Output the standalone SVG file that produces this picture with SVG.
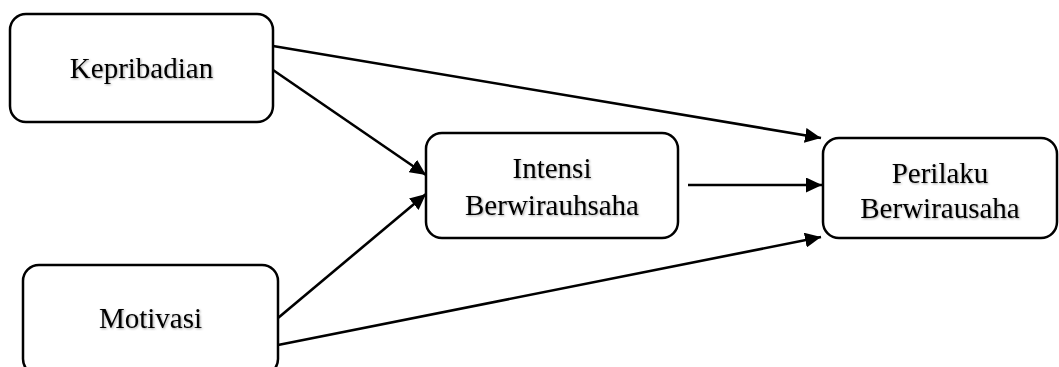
<svg xmlns="http://www.w3.org/2000/svg" width="1059" height="367" viewBox="0 0 1059 367">
  <defs>
    <marker id="arrow" markerUnits="userSpaceOnUse" markerWidth="16" markerHeight="15" refX="16" refY="7.5" orient="auto">
      <path d="M0,0 L16,7.5 L0,15 Z" fill="#000"/>
    </marker>
    <filter id="soft" x="-10%" y="-20%" width="120%" height="140%">
      <feDropShadow dx="1" dy="1" stdDeviation="0.8" flood-color="#000" flood-opacity="0.35"/>
    </filter>
  </defs>
  <style>
    .box { fill: #fff; stroke: #000; stroke-width: 2.5; }
    .lbl { font-family: "Liberation Serif", "Times New Roman", serif; font-size: 29px; fill: #000; text-anchor: middle; filter: url(#soft); }
    .edge { stroke: #000; stroke-width: 2.6; fill: none; marker-end: url(#arrow); }
  </style>
  <rect width="1059" height="367" fill="#fff"/>

  <g id="connectors">
    <line class="edge" x1="273" y1="46" x2="821" y2="138"/>
    <line class="edge" x1="273" y1="70" x2="426" y2="175"/>
    <line class="edge" x1="278" y1="318" x2="426" y2="194"/>
    <line class="edge" x1="278" y1="345" x2="821" y2="237"/>
    <line class="edge" x1="688" y1="185" x2="822" y2="185"/>
  </g>

  <g id="kepribadian">
    <rect class="box" x="10" y="14" width="263" height="108" rx="16"/>
    <text class="lbl" x="141.5" y="78">Kepribadian</text>
  </g>

  <g id="motivasi">
    <rect class="box" x="23" y="265" width="255" height="110" rx="16"/>
    <text class="lbl" x="150.5" y="328">Motivasi</text>
  </g>

  <g id="intensi">
    <rect class="box" x="426" y="133" width="252" height="105" rx="16"/>
    <text class="lbl" x="552" y="178">Intensi</text>
    <text class="lbl" x="552" y="215">Berwirauhsaha</text>
  </g>

  <g id="perilaku">
    <rect class="box" x="823" y="138" width="234" height="100" rx="16"/>
    <text class="lbl" x="940" y="183">Perilaku</text>
    <text class="lbl" x="940" y="218">Berwirausaha</text>
  </g>
</svg>
